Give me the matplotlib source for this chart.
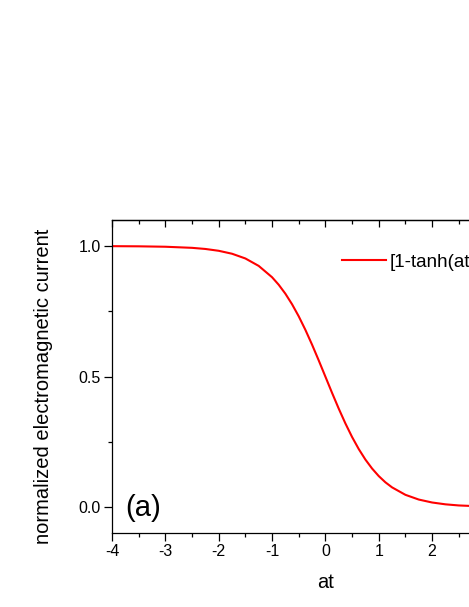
import matplotlib
matplotlib.use("Agg")
import matplotlib.pyplot as plt
from matplotlib.ticker import MultipleLocator

plt.rcParams['font.family'] = ['Liberation Sans', 'DejaVu Sans']
plt.rcParams['axes.unicode_minus'] = False

# values
at = [-4.0, -3.5, -3.0, -2.5, -2.25, -2.0, -1.75, -1.5, -1.25, -1.0, -0.875, -0.75,
      -0.625, -0.5, -0.375, -0.25, -0.125, 0.0, 0.125, 0.25, 0.375, 0.5, 0.625,
      0.75, 0.875, 1.0, 1.125, 1.25, 1.5, 1.75, 2.0, 2.25, 2.5, 3.0, 3.5, 4.0]
current = [0.9997, 0.9991, 0.9975, 0.9933, 0.9890, 0.9820, 0.9707, 0.9526, 0.9241,
           0.8808, 0.8519, 0.8176, 0.7773, 0.7311, 0.6792, 0.6225, 0.5622, 0.5000,
           0.4378, 0.3775, 0.3208, 0.2689, 0.2227, 0.1824, 0.1481, 0.1192, 0.0953,
           0.0759, 0.0474, 0.0293, 0.0180, 0.0110, 0.0067, 0.0025, 0.0009, 0.0003]
legend_label = "[1-tanh(at)]/2"

fig = plt.figure(figsize=(4.69, 6.07), dpi=100)
ax = fig.add_axes([0.2388, 0.1214, 0.910, 0.5162])

ax.plot(at, current, color='red', lw=1.5, label=legend_label)

ax.set_xlim(-4, 4)
ax.set_ylim(-0.1, 1.1)
ax.xaxis.set_major_locator(MultipleLocator(1))
ax.xaxis.set_minor_locator(MultipleLocator(0.5))
ax.yaxis.set_major_locator(MultipleLocator(0.5))
ax.yaxis.set_minor_locator(MultipleLocator(0.25))

ax.tick_params(axis='both', which='major', labelsize=11.5, width=0.9, length=6,
               direction='out', pad=2)
ax.tick_params(axis='both', which='minor', width=0.9, length=3, direction='out')
for s in ax.spines.values():
    s.set_linewidth(0.9)

# top ticks pointing inward
sec = ax.secondary_xaxis('top')
sec.xaxis.set_major_locator(MultipleLocator(1))
sec.xaxis.set_minor_locator(MultipleLocator(0.5))
sec.tick_params(which='major', direction='in', length=5, width=0.9, labeltop=False)
sec.tick_params(which='minor', direction='in', length=3, width=0.9)
sec.set_xticklabels([])
sec.spines['top'].set_linewidth(0.9)

ax.set_xlabel("at", fontsize=14.5, labelpad=10)
ax.set_ylabel("normalized electromagnetic current", fontsize=14.5)
ax.yaxis.set_label_coords(-0.138, 0.47)

ax.text(0.03, 0.08, "(a)", transform=ax.transAxes, fontsize=21, va='center', ha='left')

ax.legend(loc='center left', bbox_to_anchor=(0.540, 0.866), frameon=False,
          fontsize=13.5, handlelength=2.3, handletextpad=0.2,
          borderpad=0, borderaxespad=0)

fig.savefig("out.png", dpi=100)
